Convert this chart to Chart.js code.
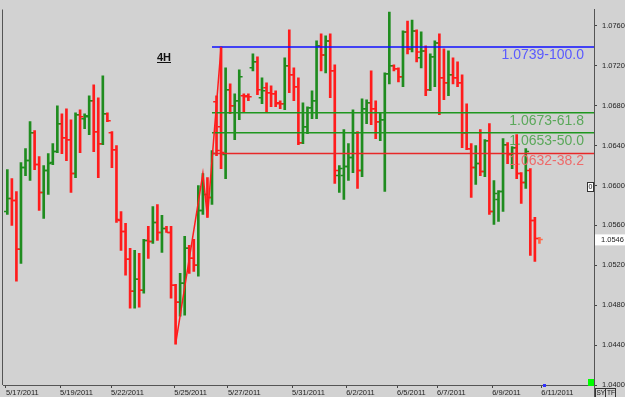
<!DOCTYPE html>
<html>
<head>
<meta charset="utf-8">
<script src="https://cdn.jsdelivr.net/npm/chart.js@4.4.0/dist/chart.umd.min.js"></script>
<style>
  html, body { margin: 0; padding: 0; background: #d2d2d2; }
  canvas { display: block; }
</style>
</head>
<body>
<canvas id="grafico" width="625" height="397"></canvas>
<script>
// barras de 4 horas
const aperturas = [1.0574,1.0587,1.0585,1.0536,1.0618,1.0625,1.0653,1.0621,1.0593,1.0615,1.0623,1.0634,1.0662,1.0648,1.0646,1.0612,1.0671,1.0667,1.0669,1.0685,
  1.0654,1.0642,1.0672,1.0653,1.0636,1.0565,1.0554,1.0526,1.0494,1.0506,1.0495,1.0545,1.0544,1.0563,1.0553,1.0557,1.0553,1.0500,1.0483,1.0502,
  1.0537,1.0527,1.0520,1.0575,1.0591,1.0588,1.0684,1.0659,1.0631,1.0696,1.0680,1.0685,1.0690,1.0690,1.0718,1.0724,1.0688,1.0698,1.0693,1.0692,
  1.0683,1.0682,1.0720,1.0711,1.0699,1.0643,1.0659,1.0678,1.0685,1.0740,1.0731,1.0745,1.0715,1.0610,1.0610,1.0619,1.0628,1.0653,1.0615,1.0677,
  1.0683,1.0677,1.0664,1.0666,1.0712,1.0720,1.0717,1.0709,1.0754,1.0737,1.0755,1.0728,1.0735,1.0696,1.0729,1.0743,1.0708,1.0703,1.0711,1.0708,
  1.0703,1.0653,1.0637,1.0618,1.0622,1.0614,1.0645,1.0574,1.0586,1.0594,1.0641,1.0631,1.0638,1.0612,1.0603,1.0615,1.0565,1.0547];
const maximos = [1.0616,1.0607,1.0594,1.0623,1.0637,1.0664,1.0655,1.0629,1.0620,1.0632,1.0642,1.0680,1.0672,1.0677,1.0666,1.0673,1.0676,1.0672,1.0690,1.0701,
  1.0688,1.0710,1.0673,1.0654,1.0640,1.0574,1.0562,1.0537,1.0535,1.0532,1.0546,1.0559,1.0579,1.0581,1.0570,1.0559,1.0559,1.0501,1.0512,1.0549,
  1.0540,1.0546,1.0600,1.0612,1.0608,1.0635,1.0690,1.0739,1.0718,1.0702,1.0692,1.0716,1.0692,1.0692,1.0732,1.0729,1.0708,1.0703,1.0700,1.0695,
  1.0685,1.0728,1.0756,1.0718,1.0708,1.0683,1.0679,1.0695,1.0745,1.0752,1.0750,1.0752,1.0721,1.0620,1.0656,1.0642,1.0676,1.0654,1.0687,1.0686,
  1.0715,1.0685,1.0673,1.0713,1.0774,1.0721,1.0718,1.0755,1.0765,1.0766,1.0756,1.0754,1.0740,1.0732,1.0745,1.0752,1.0737,1.0735,1.0728,1.0724,
  1.0711,1.0682,1.0642,1.0640,1.0656,1.0646,1.0662,1.0605,1.0595,1.0647,1.0643,1.0639,1.0651,1.0613,1.0637,1.0617,1.0568,1.0548];
const minimos = [1.0571,1.0560,1.0504,1.0522,1.0610,1.0605,1.0616,1.0575,1.0567,1.0591,1.0621,1.0633,1.0632,1.0625,1.0593,1.0608,1.0633,1.0657,1.0651,1.0634,
  1.0608,1.0641,1.0664,1.0618,1.0563,1.0535,1.0510,1.0477,1.0477,1.0478,1.0492,1.0527,1.0542,1.0545,1.0533,1.0553,1.0487,1.0441,1.0469,1.0470,
  1.0512,1.0514,1.0509,1.0571,1.0568,1.0581,1.0630,1.0617,1.0607,1.0672,1.0646,1.0666,1.0674,1.0685,1.0715,1.0691,1.0682,1.0674,1.0679,1.0679,
  1.0677,1.0676,1.0693,1.0685,1.0641,1.0642,1.0652,1.0667,1.0667,1.0715,1.0713,1.0688,1.0602,1.0593,1.0586,1.0605,1.0613,1.0597,1.0609,1.0662,
  1.0661,1.0647,1.0645,1.0594,1.0702,1.0715,1.0704,1.0699,1.0732,1.0734,1.0724,1.0718,1.0690,1.0695,1.0699,1.0671,1.0686,1.0690,1.0702,1.0699,
  1.0638,1.0636,1.0588,1.0601,1.0610,1.0609,1.0571,1.0561,1.0564,1.0574,1.0622,1.0617,1.0607,1.0582,1.0597,1.0530,1.0524,1.0542];
const cierres = [1.0587,1.0585,1.0536,1.0618,1.0625,1.0653,1.0621,1.0593,1.0615,1.0622,1.0634,1.0662,1.0648,1.0646,1.0612,1.0671,1.0669,1.0670,1.0685,1.0654,
  1.0642,1.0672,1.0665,1.0636,1.0566,1.0554,1.0526,1.0494,1.0506,1.0495,1.0545,1.0544,1.0563,1.0553,1.0557,1.0553,1.0500,1.0483,1.0502,1.0537,
  1.0527,1.0520,1.0575,1.0591,1.0588,1.0632,1.0635,1.0633,1.0696,1.0680,1.0685,1.0709,1.0689,1.0689,1.0724,1.0696,1.0695,1.0693,1.0692,1.0682,
  1.0682,1.0720,1.0711,1.0699,1.0643,1.0659,1.0678,1.0685,1.0740,1.0731,1.0745,1.0715,1.0615,1.0617,1.0619,1.0628,1.0653,1.0615,1.0677,1.0683,
  1.0677,1.0664,1.0666,1.0712,1.0720,1.0717,1.0709,1.0754,1.0737,1.0755,1.0734,1.0735,1.0696,1.0729,1.0743,1.0708,1.0703,1.0711,1.0708,1.0703,
  1.0653,1.0637,1.0618,1.0622,1.0614,1.0645,1.0574,1.0592,1.0594,1.0641,1.0631,1.0638,1.0612,1.0603,1.0634,1.0565,1.0547,1.0546];

// ejes
const fechasPos = [-0.3, 11.6, 22.8, 36.7, 48.5, 62.6, 74.5, 85.7, 94.5, 106.6, 117.4];
const fechasTxt = ['5/17/2011','5/19/2011','5/22/2011','5/25/2011','5/27/2011','5/31/2011','6/2/2011','6/5/2011','6/7/2011','6/9/2011','6/11/2011'];
const precioTicks = [1.0400,1.0440,1.0480,1.0520,1.0560,1.0600,1.0640,1.0680,1.0720,1.0760];

// fibonacci y zigzag
const fiboNiveles = [1.0739, 1.0673, 1.0653, 1.0632];
const fiboPct = [100.0, 61.8, 50.0, 38.2];
const fiboInicio = 45;
const zigzagX = [37, 43, 44, 47];
const zigzagY = [1.0441, 1.0612, 1.0568, 1.0739];

const X_MIN = -0.95, X_MAX = 129;
const n = cierres.length;
const colores = cierres.map((c, i) => i === n - 1 ? '#ff6a4a' : (c >= aperturas[i] ? '#1f8c1f' : '#ff1c1c'));
const fiboColor = ['#1010ff', '#1f961f', '#1f961f', '#e82828'];
const fiboTexto = ['#5a5aff', '#5aa85a', '#5aa85a', '#ee6a6a'];

const datasets = [
  {
    type: 'bar',
    data: maximos.map((h, i) => ({ x: i, y: [minimos[i], h] })),
    backgroundColor: colores,
    barThickness: 2,
    grouped: false,
    order: 10
  },
  {
    type: 'scatter',
    data: aperturas.map((o, i) => ({ x: i - 0.4, y: o })),
    pointStyle: 'line', pointRadius: 1.5, pointBorderWidth: 1.5,
    pointBorderColor: colores, pointHoverRadius: 1.5,
    order: 9
  },
  {
    type: 'scatter',
    data: cierres.map((c, i) => ({ x: i + 0.4, y: c })),
    pointStyle: 'line', pointRadius: 1.5, pointBorderWidth: 1.5,
    pointBorderColor: colores, pointHoverRadius: 1.5,
    order: 8
  }
];

fiboNiveles.forEach((v, k) => {
  datasets.push({
    type: 'line',
    data: [{ x: fiboInicio, y: v }, { x: X_MAX, y: v }],
    borderColor: fiboColor[k],
    borderWidth: 1.5,
    pointRadius: 0,
    order: 2
  });
});

datasets.push({
  type: 'line',
  data: zigzagX.map((x, k) => ({ x: x, y: zigzagY[k] })),
  borderColor: '#ff1c1c',
  borderWidth: 1.5,
  pointRadius: 0,
  order: 1
});

const fuente = '"Liberation Sans", Arial, sans-serif';

// bordes, textos y cajitas de la plataforma
const decoracion = {
  id: 'decoracion',
  afterDraw(chart) {
    const { ctx, chartArea: a, scales: { y } } = chart;
    ctx.save();
    ctx.strokeStyle = '#555';
    ctx.lineWidth = 1;
    ctx.beginPath();
    ctx.moveTo(a.left - 0.5, a.top); ctx.lineTo(a.left - 0.5, a.bottom);
    ctx.moveTo(a.right + 0.5, a.bottom); ctx.lineTo(a.right + 0.5, 397);
    ctx.stroke();

    // etiquetas fibo
    ctx.font = '14px ' + fuente;
    ctx.textAlign = 'right';
    ctx.textBaseline = 'top';
    fiboNiveles.forEach((v, k) => {
      ctx.fillStyle = fiboTexto[k];
      ctx.fillText(v.toFixed(4) + '-' + fiboPct[k].toFixed(1), a.right - 10, y.getPixelForValue(v) + 1);
    });

    // 4H
    ctx.fillStyle = '#111';
    ctx.font = 'bold 11px ' + fuente;
    ctx.textAlign = 'left';
    ctx.textBaseline = 'alphabetic';
    ctx.fillText('4H', 157, 61);
    ctx.fillRect(157, 62, 14, 1);

    // ultimo precio
    const yp = y.getPixelForValue(cierres[n - 1]);
    ctx.fillStyle = '#fff';
    ctx.fillRect(a.right + 1, yp - 5, 31, 11);
    ctx.fillStyle = '#222';
    ctx.font = '7.5px ' + fuente;
    ctx.textBaseline = 'middle';
    ctx.fillText(cierres[n - 1].toFixed(4), a.right + 7, yp + 0.5);

    // caja "0"
    ctx.fillStyle = '#fff';
    ctx.fillRect(a.right - 6, 183, 6, 9);
    ctx.strokeStyle = '#333';
    ctx.strokeRect(a.right - 6.5, 182.5, 6, 9);
    ctx.fillStyle = '#111';
    ctx.font = '7px ' + fuente;
    ctx.fillText('0', a.right - 5.5, 187.5);

    // cuadrado verde
    ctx.fillStyle = '#00ff00';
    ctx.fillRect(a.right - 6, 379, 6, 7);

    // marcador azul
    ctx.fillStyle = '#3030ff';
    ctx.fillRect(543, 384, 3, 3);

    // SY | TF
    ctx.strokeStyle = '#333';
    ctx.strokeRect(a.right + 1.5, 388.5, 10, 9);
    ctx.strokeRect(a.right + 11.5, 388.5, 10, 9);
    ctx.fillStyle = '#111';
    ctx.font = '6.5px ' + fuente;
    ctx.fillText('SY', a.right + 2.5, 393.5);
    ctx.fillText('TF', a.right + 13, 393.5);
    ctx.restore();
  }
};

new Chart(document.getElementById('grafico').getContext('2d'), {
  type: 'bar',
  data: { datasets: datasets },
  options: {
    responsive: false,
    animation: false,
    events: [],
    layout: { padding: { left: 3, top: 0, right: 0, bottom: 0 } },
    scales: {
      x: {
        type: 'linear',
        offset: false,
        min: X_MIN,
        max: X_MAX,
        afterBuildTicks: s => { s.ticks = fechasPos.map(v => ({ value: v })); },
        afterFit: s => { s.height = 12; },
        ticks: {
          autoSkip: false,
          maxRotation: 0,
          align: 'start',
          padding: 0,
          color: '#222',
          font: { family: fuente, size: 7.5 },
          callback: (v, i) => fechasTxt[i]
        },
        grid: { drawOnChartArea: false, offset: false, tickLength: 3, color: '#444' },
        border: { display: true, color: '#555', width: 1 }
      },
      y: {
        position: 'right',
        min: 1.04,
        max: 1.07765,
        afterBuildTicks: s => { s.ticks = precioTicks.map(v => ({ value: v })); },
        afterFit: s => { s.width = 31; },
        ticks: {
          autoSkip: false,
          padding: 5,
          color: '#222',
          font: { family: fuente, size: 7.5 },
          callback: v => v.toFixed(4)
        },
        grid: { drawOnChartArea: false, tickLength: 3, color: '#444' },
        border: { display: true, color: '#555', width: 1 }
      }
    },
    plugins: {
      legend: { display: false },
      tooltip: { enabled: false }
    }
  },
  plugins: [decoracion]
});
</script>
</body>
</html>
